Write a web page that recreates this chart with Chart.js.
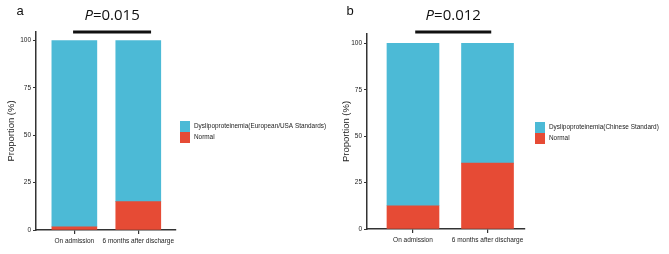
<!DOCTYPE html>
<html>
<head>
<meta charset="utf-8">
<script src="https://cdn.jsdelivr.net/npm/chart.js@4/dist/chart.umd.min.js"></script>
<style>
  html, body { margin: 0; padding: 0; background: #fff; }
  #wrap { position: relative; width: 669px; height: 254px; }
  .panel { position: absolute; top: 0; height: 254px; }
</style>
</head>
<body>
<div id="wrap">
  <div class="panel" style="left:0;width:335px"><canvas id="chartA"></canvas></div>
  <div class="panel" style="left:335px;width:334px"><canvas id="chartB"></canvas></div>
</div>
<script>
const categories = ['On admission', '6 months after discharge'];
const yTicks = [0, 25, 50, 75, 100];

// panel a: European/USA standards
const normalA = [1.7, 15];
const dyslipoA = [98.3, 85];
// panel b: Chinese standard
const normalB = [12.5, 35.5];
const dyslipoB = [87.5, 64.5];

const pValueA = 'P=0.015';
const pValueB = 'P=0.012';

const BLUE = '#4cbad6';
const RED = '#e64b35';

// draws panel letter, p-value bracket and legend
const extras = {
  id: 'extras',
  afterDraw(chart, args, opts) {
    const ctx = chart.ctx;
    const x = chart.scales.x;
    ctx.save();
    // panel letter
    ctx.fillStyle = '#111';
    ctx.font = '13px "Liberation Sans", Arial, sans-serif';
    ctx.textBaseline = 'middle';
    ctx.textAlign = 'center';
    ctx.fillText(opts.letter, opts.letterX, 11);
    // bracket
    const x1 = x.getPixelForValue(opts.bracket[0]);
    const x2 = x.getPixelForValue(opts.bracket[1]);
    ctx.strokeStyle = '#111';
    ctx.lineWidth = 3;
    ctx.beginPath();
    ctx.moveTo(x1, 32);
    ctx.lineTo(x2, 32);
    ctx.stroke();
    // p value, italic P
    const mid = (x1 + x2) / 2;
    const [p, rest] = opts.pText.split('=');
    ctx.font = 'italic 15px "Open Sans", sans-serif';
    const w1 = ctx.measureText(p).width;
    ctx.font = '15px "Open Sans", sans-serif';
    const w2 = ctx.measureText('=' + rest).width;
    let sx = mid - (w1 + w2) / 2;
    ctx.textAlign = 'left';
    ctx.font = 'italic 15px "Open Sans", sans-serif';
    ctx.fillText(p, sx, 16);
    ctx.font = '15px "Open Sans", sans-serif';
    ctx.fillText('=' + rest, sx + w1, 16);
    // legend
    const items = [
      { label: chart.data.datasets[1].label, color: chart.data.datasets[1].backgroundColor },
      { label: chart.data.datasets[0].label, color: chart.data.datasets[0].backgroundColor }
    ];
    ctx.font = '6.4px "Liberation Sans", Arial, sans-serif';
    items.forEach((it, i) => {
      const y = opts.legendY + i * 11;
      ctx.fillStyle = it.color;
      ctx.fillRect(opts.legendX, y, 10, 11);
      ctx.fillStyle = '#222';
      ctx.fillText(it.label, opts.legendX + 14, y + 5.5);
    });
    ctx.restore();
  }
};

function makeChart(id, normal, dyslipo, dysLabel, cfg) {
  const axisColor = '#333';
  const tickFont = { family: '"Liberation Sans", Arial, sans-serif', size: 6.5 };
  return new Chart(document.getElementById(id), {
    type: 'bar',
    data: {
      datasets: [
        { label: 'Normal', data: normal.map((v, i) => ({ x: i, y: v })), backgroundColor: RED, barThickness: cfg.barW },
        { label: dysLabel, data: dyslipo.map((v, i) => ({ x: i, y: v })), backgroundColor: BLUE, barThickness: cfg.barW }
      ]
    },
    options: {
      responsive: false,
      animation: false,
      maintainAspectRatio: false,
      layout: { padding: { left: 0, right: cfg.width - cfg.right, top: cfg.top, bottom: 0 } },
      plugins: {
        legend: { display: false },
        tooltip: { enabled: false },
        extras: cfg.extras
      },
      scales: {
        x: {
          type: 'linear',
          stacked: true,
          offset: false,
          bounds: 'data',
          min: cfg.xMin,
          max: cfg.xMax,
          afterBuildTicks: s => { s.ticks = categories.map((c, i) => ({ value: i })); },
          afterDataLimits: s => { s.min = cfg.xMin; s.max = cfg.xMax; },
          afterFit: s => { s.height = 254 - cfg.bottom; },
          ticks: { color: '#222', font: tickFont, padding: 3, maxRotation: 0, autoSkip: false,
            callback: v => categories[v] },
          grid: { offset: false, drawOnChartArea: false, drawTicks: true, tickLength: 4, color: axisColor, lineWidth: 1.2 },
          border: { color: axisColor, width: 1.5 }
        },
        y: {
          stacked: true,
          min: 0,
          max: cfg.yMax,
          bounds: 'data',
          afterBuildTicks: s => { s.ticks = yTicks.map(v => ({ value: v })); },
          afterFit: s => { s.width = cfg.left; },
          ticks: { color: '#222', font: tickFont, padding: 2 },
          grid: { offset: false, drawOnChartArea: false, drawTicks: true, tickLength: 3, color: axisColor, lineWidth: 1 },
          border: { color: axisColor, width: 1.5 },
          title: { display: true, text: 'Proportion (%)', color: '#222',
            font: { family: '"Liberation Sans", Arial, sans-serif', size: 9.5 }, padding: { top: 6, bottom: 0 } }
        }
      }
    },
    plugins: [extras]
  });
}

function sizeCanvas(id, w) {
  const c = document.getElementById(id);
  c.width = w; c.height = 254;
  c.style.width = w + 'px'; c.style.height = '254px';
}
sizeCanvas('chartA', 335);
sizeCanvas('chartB', 334);

makeChart('chartA', normalA, dyslipoA, 'Dyslipoproteinemia(European/USA Standards)', {
  width: 335, left: 36, right: 176, top: 32, bottom: 230, yMax: 104.5,
  xMin: -0.6, xMax: 1.59, barW: 45,
  extras: { letter: 'a', letterX: 20, bracket: [-0.02, 1.2], pText: pValueA, legendX: 180, legendY: 121 }
});
makeChart('chartB', normalB, dyslipoB, 'Dyslipoproteinemia(Chinese Standard)', {
  width: 334, left: 32, right: 190, top: 34, bottom: 229, yMax: 105,
  xMin: -0.617, xMax: 1.503, barW: 52,
  extras: { letter: 'b', letterX: 15, bracket: [0.03, 1.05], pText: pValueB, legendX: 200, legendY: 122 }
});
</script>
</body>
</html>
